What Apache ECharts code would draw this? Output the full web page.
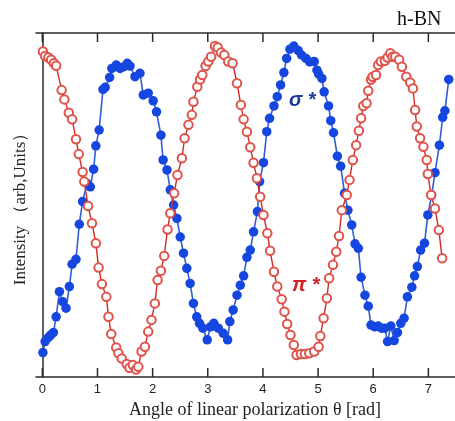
<!DOCTYPE html>
<html>
<head>
<meta charset="utf-8">
<style>html,body{margin:0;padding:0;background:#fff;}#c{width:455px;height:421px;}</style>
<script src="https://cdn.jsdelivr.net/npm/echarts@6/dist/echarts.min.js"></script>
</head>
<body>
<div id="c"></div>
<script>
// π* (red, open circles): angle [rad], intensity (arb. units)
const piX = [0.01,0.05,0.11,0.16,0.21,0.25,0.35,0.40,0.48,0.54,0.61,0.66,0.73,0.76,0.83,0.90,0.97,1.02,1.08,1.16,1.20,1.25,1.34,1.38,1.44,1.53,1.58,1.64,1.70,1.74,1.80,1.86,1.92,1.98,2.04,2.09,2.15,2.21,2.27,2.32,2.39,2.45,2.53,2.58,2.65,2.71,2.74,2.81,2.86,2.90,2.96,3.01,3.06,3.13,3.18,3.24,3.30,3.37,3.45,3.53,3.60,3.65,3.71,3.77,3.83,3.89,3.95,4.01,4.08,4.13,4.20,4.26,4.34,4.39,4.44,4.50,4.56,4.61,4.69,4.76,4.84,4.93,5.01,5.04,5.10,5.16,5.20,5.27,5.33,5.38,5.43,5.52,5.57,5.63,5.69,5.74,5.78,5.82,5.88,5.91,5.96,5.99,6.05,6.09,6.14,6.21,6.26,6.31,6.35,6.40,6.47,6.52,6.60,6.67,6.72,6.76,6.79,6.85,6.91,6.97,6.99,7.05,7.12,7.19,7.25];
const piY = [94.6,93.3,92.9,92.2,91.2,90.5,83.4,80.7,76.8,74.9,69.1,64.8,59.6,56.8,49.7,44.7,38.9,31.8,27.0,23.3,17.5,12.5,8.6,6.9,5.4,3.8,2.7,3.5,2.2,3.0,7.4,8.8,13.2,16.6,21.4,28.2,30.9,35.2,42.9,47.6,53.4,58.7,63.6,69.4,73.3,76.2,80.0,84.4,86.5,87.8,90.4,91.7,93.1,96.2,95.8,94.3,93.6,91.7,91.2,85.4,79.1,74.9,71.3,66.8,62.3,57.8,52.4,47.1,41.8,36.7,30.6,26.3,22.6,19.0,15.4,12.2,9.3,6.4,6.7,6.7,6.9,7.4,8.8,11.9,17.1,22.9,28.7,32.6,36.4,41.0,48.5,52.9,57.3,63.1,67.4,71.6,75.2,78.8,79.6,83.2,86.5,87.3,87.8,90.7,91.7,91.9,92.9,94.1,93.1,93.1,92.2,90.2,87.3,85.6,83.9,77.6,72.8,69.4,66.9,63.1,59.0,52.9,49.0,42.7,34.5];
// σ* (blue, filled circles)
const sigX = [0.01,0.05,0.11,0.15,0.20,0.25,0.31,0.37,0.43,0.49,0.54,0.61,0.67,0.73,0.81,0.87,0.93,0.97,1.03,1.10,1.14,1.22,1.26,1.34,1.41,1.48,1.54,1.59,1.68,1.77,1.83,1.92,2.01,2.07,2.15,2.19,2.26,2.32,2.38,2.44,2.50,2.56,2.62,2.68,2.74,2.80,2.85,2.91,2.99,3.05,3.11,3.19,3.28,3.36,3.40,3.46,3.53,3.59,3.65,3.71,3.77,3.83,3.90,3.94,4.01,4.07,4.12,4.20,4.26,4.32,4.38,4.43,4.49,4.56,4.64,4.70,4.78,4.85,4.93,4.98,5.01,5.07,5.11,5.19,5.23,5.28,5.35,5.41,5.48,5.54,5.61,5.67,5.73,5.78,5.85,5.91,5.96,6.03,6.09,6.15,6.21,6.26,6.32,6.38,6.44,6.50,6.56,6.62,6.70,6.75,6.80,6.86,6.93,6.99,7.06,7.12,7.20,7.26,7.30,7.37];
const sigY = [7.1,10.3,11.5,12.2,12.9,17.5,24.8,21.9,20.0,26.3,32.8,34.2,44.4,51.0,56.3,55.3,60.4,67.2,71.8,83.6,84.2,87.1,89.7,90.7,89.7,90.2,91.2,90.4,87.3,88.3,82.0,82.5,80.3,77.1,70.3,63.1,60.2,54.4,50.0,46.1,40.7,36.0,31.6,27.2,21.4,17.5,15.6,14.2,10.8,14.6,15.6,14.2,12.7,10.8,16.1,19.5,23.8,26.7,29.4,34.8,36.9,42.2,48.1,56.8,62.3,71.3,75.2,78.8,81.5,84.9,88.5,92.6,95.3,96.2,94.9,93.6,92.6,91.6,91.7,89.2,88.1,86.8,82.9,78.8,74.5,71.0,64.2,61.3,53.4,48.5,44.2,38.7,37.4,29.0,23.8,20.6,15.1,14.6,14.8,14.2,14.2,10.3,14.8,10.6,12.9,15.6,17.1,23.3,26.1,29.4,32.1,36.9,38.9,47.1,52.9,59.4,67.4,75.5,77.4,86.5];
const xTicks = [0,1,2,3,4,5,6,7];

const pair = (xs, ys) => xs.map((x, i) => [x, ys[i]]);
const chart = echarts.init(document.getElementById('c'), null, {renderer: 'canvas'});
const axisCol = '#2a2a2a';
const Y_MIN = 0, Y_MAX = 100;
function makeX(pos, showLabel) {
  return {
    type: 'value', min: -0.115, max: 7.483, position: pos,
    axisLine: {show: true, onZero: false, lineStyle: {color: axisCol, width: 1.5}},
    axisTick: {show: false},
    axisLabel: {show: showLabel, customValues: xTicks, margin: 6, color: '#222', fontSize: 13, fontFamily: 'Liberation Sans'},
    splitLine: {show: false}
  };
}
const textGraphics = [
  {id: 'xt', type: 'text', left: 129, top: 401, style: {text: 'Angle of linear polarization θ [rad]', font: '18px "Liberation Serif"', fill: '#222'}},
  {id: 'hbn', type: 'text', left: 397, top: 10, style: {text: 'h-BN', font: '20px "Liberation Serif"', fill: '#111'}},
  {id: 'sig', type: 'text', left: 289, top: 90, style: {text: 'σ *', font: 'italic bold 20px "Liberation Sans"', fill: '#1d3a9a'}},
  {id: 'pi', type: 'text', left: 292, top: 275, style: {text: 'π *', font: 'italic bold 20px "Liberation Sans"', fill: '#d42222'}}
];
chart.setOption({
  animation: false,
  backgroundColor: '#ffffff',
  grid: {left: 36, top: 33, right: 0, bottom: 44},
  xAxis: [makeX('bottom', true), makeX('top', false)],
  yAxis: {
    type: 'value', min: Y_MIN, max: Y_MAX,
    axisLine: {show: true, lineStyle: {color: axisCol, width: 1.5}},
    axisTick: {show: false}, axisLabel: {show: false}, splitLine: {show: false},
    name: 'Intensity （arb,Units）', nameLocation: 'middle', nameGap: 7, nameRotate: 90,
    nameTextStyle: {fontFamily: 'Liberation Serif', fontSize: 17, color: '#222'}
  },
  graphic: textGraphics,
  series: [
    {
      name: 'σ*', type: 'line', data: pair(sigX, sigY), xAxisIndex: 0,
      symbol: 'circle', symbolSize: 9.5, clip: false, z: 3,
      lineStyle: {color: '#2f5fd6', width: 1.6},
      itemStyle: {color: '#1547e0', borderWidth: 0}
    },
    {
      name: 'π*', type: 'line', data: pair(piX, piY), xAxisIndex: 0,
      symbol: 'emptyCircle', symbolSize: 8.5, clip: false, z: 4,
      lineStyle: {color: '#d42a24', width: 1.4},
      itemStyle: {color: '#e0524a', borderColor: '#e0524a', borderWidth: 1}
    }
  ]
});
// inward tick marks on the bottom and top frame lines, positioned with the axis scales
const yb = chart.convertToPixel({yAxisIndex: 0}, Y_MIN);
const yt = chart.convertToPixel({yAxisIndex: 0}, Y_MAX);
const tickGraphics = [];
xTicks.forEach(function (v, i) {
  const px = chart.convertToPixel({xAxisIndex: 0}, v);
  tickGraphics.push({id: 'tb' + i, type: 'line', z: 100, shape: {x1: px, y1: yb, x2: px, y2: yb - 9}, style: {stroke: axisCol, lineWidth: 1.5}});
  tickGraphics.push({id: 'tt' + i, type: 'line', z: 100, shape: {x1: px, y1: yt, x2: px, y2: yt + 9}, style: {stroke: axisCol, lineWidth: 1.5}});
});
chart.setOption({graphic: textGraphics.concat(tickGraphics)});
</script>
</body>
</html>
